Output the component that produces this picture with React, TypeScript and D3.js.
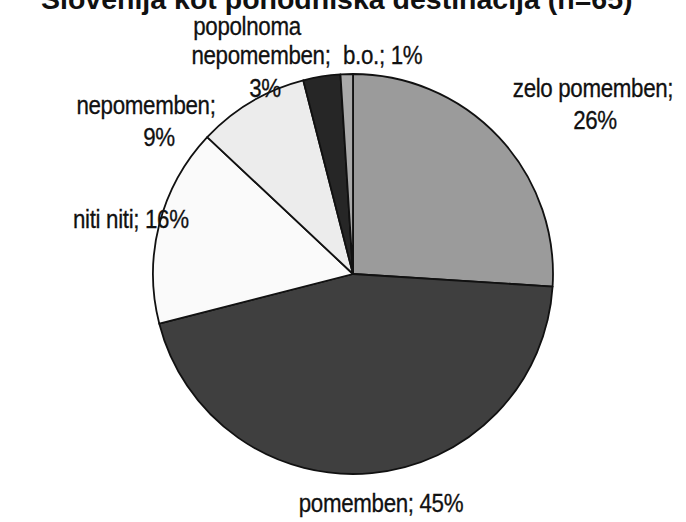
import React from "react";
import * as d3 from "d3";

const title = "Slovenija kot pohodniška destinacija (n=65)";
const categories = ["zelo pomemben", "pomemben", "niti niti", "nepomemben", "popolnoma nepomemben", "b.o."];
const values = [26, 45, 16, 9, 3, 1];
const colors = ["#9b9b9b", "#3f3f3f", "#fafafa", "#ececec", "#262626", "#a9a9a9"];

// label layout: lines with anchor positions
const labelLines: { text: string; x: number; y: number; anchor: string }[][] = [
  [
    { text: "zelo pomemben;", x: 593, y: 97, anchor: "middle" },
    { text: "26%", x: 595, y: 129, anchor: "middle" },
  ],
  [{ text: "pomemben; 45%", x: 381, y: 512, anchor: "middle" }],
  [{ text: "niti niti; 16%", x: 73, y: 228, anchor: "start" }],
  [
    { text: "nepomemben;", x: 146, y: 114, anchor: "middle" },
    { text: "9%", x: 159, y: 146, anchor: "middle" },
  ],
  [
    { text: "popolnoma", x: 247, y: 35, anchor: "middle" },
    { text: "nepomemben;", x: 261, y: 64, anchor: "middle" },
    { text: "3%", x: 265, y: 97, anchor: "middle" },
  ],
  [{ text: "b.o.; 1%", x: 343, y: 64, anchor: "start" }],
];

export default function App() {
  const W = 686, H = 522;
  const cx = 353, cy = 274, r = 200;
  const data = categories.map((c, i) => ({ c, v: values[i], color: colors[i] }));
  const pie = d3.pie<any>().value((d) => d.v).sort(null).startAngle(0).endAngle(2 * Math.PI);
  const arcs = pie(data);
  const arc = d3.arc<any>().innerRadius(0).outerRadius(r);
  const font = "'Liberation Sans', Arial, sans-serif";
  return (
    <svg width={W} height={H} style={{ position: "absolute", left: 0, top: 0, background: "#fff" }}>
      <rect x={0} y={0} width={W} height={H} fill="#fff" />
      <text x={41} y={9} fontFamily={font} fontWeight="bold" fontSize={28.5} fill="#111">{title}</text>
      <g transform={`translate(${cx},${cy})`}>
        {arcs.map((a, i) => (
          <path key={i} d={arc(a) as string} fill={a.data.color} stroke="#111" strokeWidth={1.8} strokeLinejoin="round" />
        ))}
      </g>
      {labelLines.map((lines, i) =>
        lines.map((l, j) => (
          <text key={i + "-" + j} transform={`translate(${l.x},${l.y}) scale(0.86,1)`} textAnchor={l.anchor as any} fontFamily={font} fontSize={26} letterSpacing={-0.4} fill="#111" stroke="#111" strokeWidth={0.3}>
            {l.text}
          </text>
        ))
      )}
    </svg>
  );
}
